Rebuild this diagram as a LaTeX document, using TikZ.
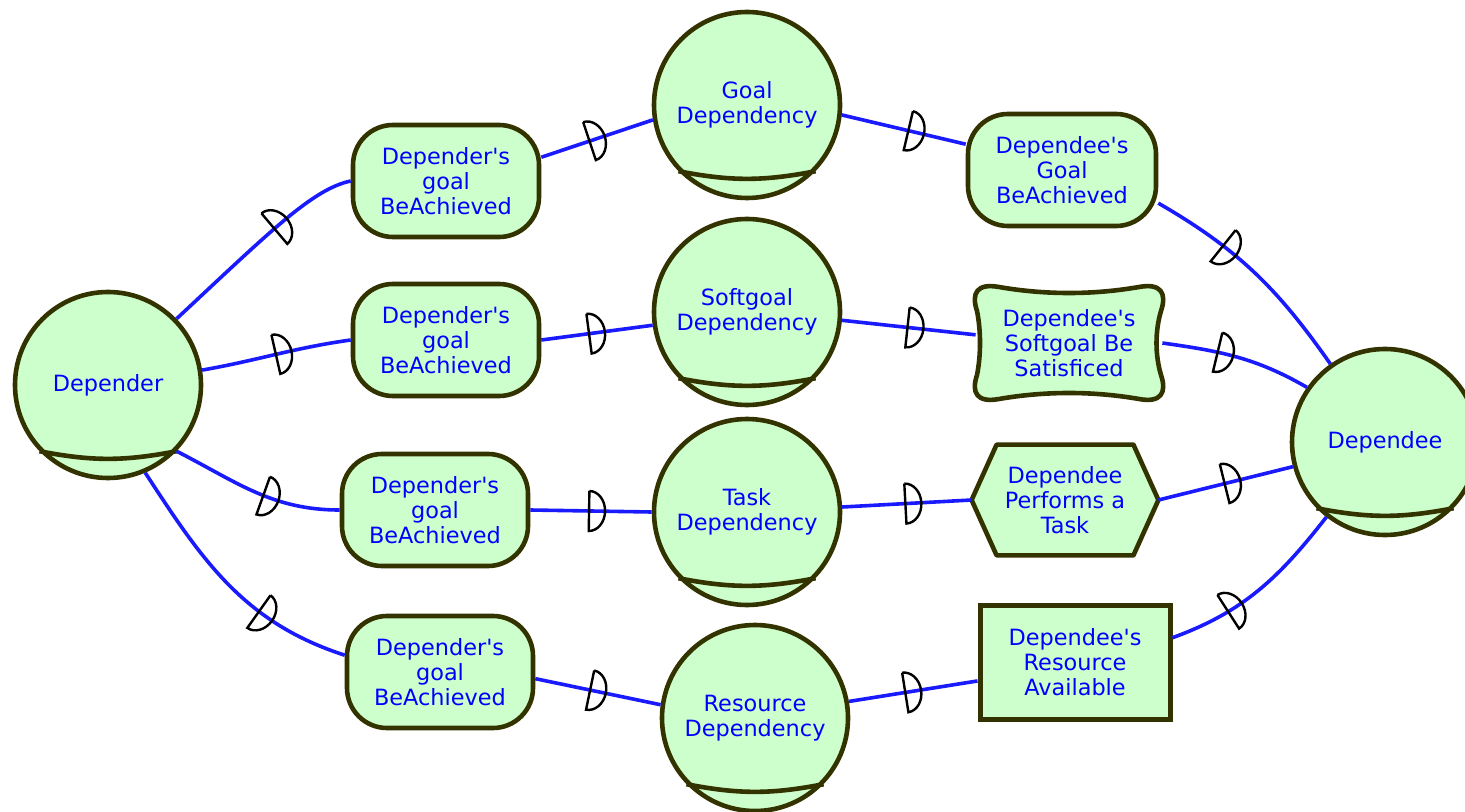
\documentclass[tikz,border=0pt]{standalone}
\usepackage{fontspec}
\setmainfont{DejaVu Sans}[Ligatures=TeXOff]
\usepackage{xcolor}
\usepackage{tikz}
\usetikzlibrary{positioning,decorations.markings,backgrounds}

\definecolor{agentfill}{HTML}{CCFFCC}
\definecolor{agentline}{HTML}{333300}
\definecolor{linkblue}{HTML}{1A1AFF}

\newcommand{\depmark}{\draw[black, line width=1.2pt] (-4pt,10pt) -- (-4pt,-10pt) arc[start angle=-90, end angle=90, x radius=8pt, y radius=10pt];}

\begin{document}
\begin{tikzpicture}[
  x=0.5pt, y=0.5pt,
  every node/.style={font=\fontsize{11.2}{12.5}\selectfont, text=blue, align=center},
  actor/.style={circle, draw=agentline, fill=agentfill, line width=2.3pt, minimum size=93pt, inner sep=0pt},
  goalbox/.style={rectangle, rounded corners=20pt, draw=agentline, fill=agentfill, line width=2.3pt, minimum width=93pt, minimum height=56pt, inner sep=0pt},
  resbox/.style={rectangle, draw=agentline, fill=agentfill, line width=2.5pt, minimum width=95pt, minimum height=57pt, inner sep=0pt},
  plain/.style={rectangle, minimum width=93pt, minimum height=56pt, inner sep=0pt},
  outline/.style={draw=agentline, fill=agentfill, line width=2.3pt, line join=round},
  lens/.style={draw=agentline, line width=2.3pt},
  dlink/.style={draw=linkblue, line width=1.8pt, postaction={decorate, decoration={markings, mark=at position #1 with {\depmark}}}},
  dlink/.default=0.5
]
\useasboundingbox (0,0) rectangle (1465,-812);

% actors and dependums
\node[actor] (dr) at (108,-385) {Depender};
\node[actor] (de) at (1385,-442) {Dependee};
\node[actor] (gd) at (747,-105) {Goal\\Dependency};
\node[actor] (sd) at (747,-312) {Softgoal\\Dependency};
\node[actor] (td) at (747,-512) {Task\\Dependency};
\node[actor] (rd) at (755,-718) {Resource\\Dependency};
\foreach \a in {dr,de,gd,sd,td,rd}
  \draw[lens] (\a.-136) to[out=-11,in=191] (\a.-44);

% depender side
\node[goalbox] (g1) at (446,-181) {Depender's\\goal\\BeAchieved};
\node[goalbox] (g2) at (446,-340) {Depender's\\goal\\BeAchieved};
\node[goalbox] (g3) at (435,-510) {Depender's\\goal\\BeAchieved};
\node[goalbox] (g4) at (440,-672) {Depender's\\goal\\BeAchieved};

% dependee side
\node[goalbox, minimum width=94pt] (dg) at (1062,-170) {Dependee's\\Goal\\BeAchieved};
\node[plain] (ds) at (1069,-343) {Dependee's\\Softgoal Be\\Satisficed};
\node[plain, minimum height=55pt] (hx) at (1065,-500) {Dependee\\Performs a\\Task};
\node[resbox] (rs) at (1075,-662) {Dependee's\\Resource\\Available};

\begin{scope}[on background layer, shift={(ds.center)}, x=1pt, y=1pt]
\draw[outline] (-35,28) .. controls (-12,24) and (12,24) .. (35,28)
  .. controls (46,30) and (49,25) .. (46,16)
  .. controls (43,6) and (43,-6) .. (46,-16)
  .. controls (49,-25) and (46,-30) .. (35,-28)
  .. controls (12,-24) and (-12,-24) .. (-35,-28)
  .. controls (-46,-30) and (-49,-25) .. (-46,-16)
  .. controls (-44,-6) and (-44,6) .. (-46,16)
  .. controls (-49,25) and (-46,30) .. (-35,28) -- cycle;
\end{scope}
\begin{scope}[on background layer]
\draw[outline] (hx.west) -- ([xshift=12.5pt]hx.north west) -- ([xshift=-12.5pt]hx.north east)
  -- (hx.east) -- ([xshift=-12.5pt]hx.south east) -- ([xshift=12.5pt]hx.south west) -- cycle;
\end{scope}

% dependency links
\path[dlink=0.63] (dr.44) to[out=43,in=192,out looseness=1.48,in looseness=0.45] (g1.west);
\path[dlink=0.55] (dr.9) to[out=10,in=188] (g2.west);
\path[dlink=0.6] (dr.-44) to[out=-27,in=180] (g3.west);
\path[dlink=0.68] (dr.-67) to[out=-57,in=162] (g4.170);

\path[dlink] (g1.14) -- (gd.189);
\path[dlink] (g2.east) -- (sd.188);
\path[dlink=0.55] (g3.east) -- (td.west);
\path[dlink] (g4.-4) -- (rd.172);

\path[dlink=0.6] (gd.-6) -- (dg.165);
\path[dlink=0.55] (sd.-5) -- (ds.175);
\path[dlink=0.55] (td.3) -- (hx.west);
\path[dlink] (rd.10) -- (rs.191);

\path[dlink=0.36] (dg.-19) to[out=-30,in=125] (de.125);
\path[dlink=0.42] (ds.east) to[out=-8,in=150] (de.145);
\path[dlink=0.55] (hx.east) -- (de.195);
\path[dlink=0.35] (rs.14) to[out=20,in=232] (de.232);
\end{tikzpicture}
\end{document}
